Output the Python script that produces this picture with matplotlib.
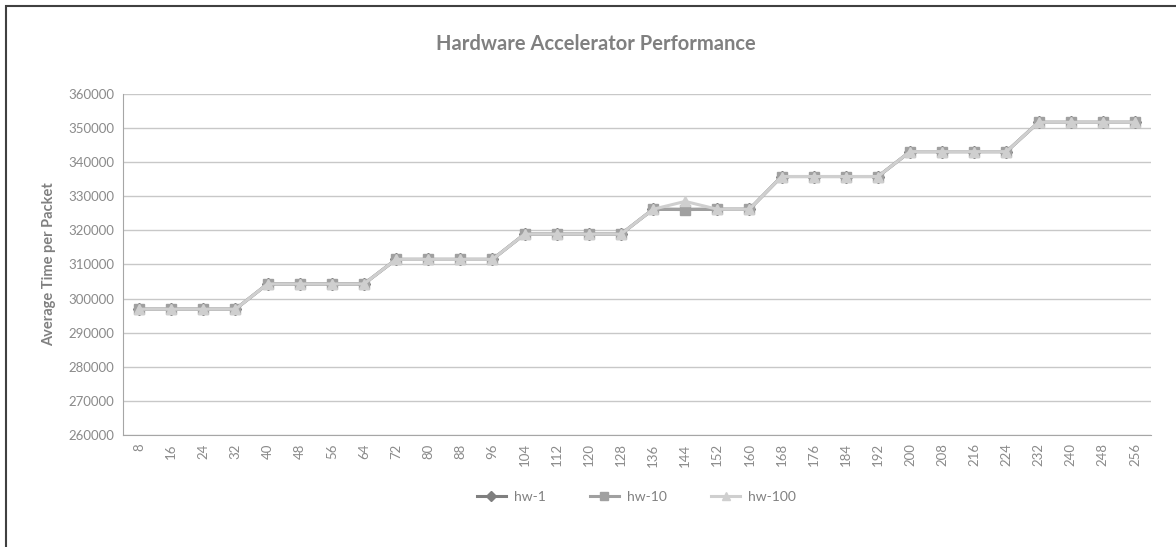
import matplotlib
matplotlib.use('Agg')
import matplotlib.pyplot as plt
from matplotlib.patches import Rectangle

plt.rcParams['font.family'] = ['Lato', 'DejaVu Sans']

# packet sizes on the x axis
sizes = [8, 16, 24, 32, 40, 48, 56, 64, 72, 80, 88, 96, 104, 112, 120, 128,
         136, 144, 152, 160, 168, 176, 184, 192, 200, 208, 216, 224, 232, 240, 248, 256]

# average time per packet
hw1 = [296900, 296900, 296900, 296900, 304300, 304300, 304300, 304300,
       311500, 311500, 311500, 311500, 318900, 318900, 318900, 318900,
       326200, 326200, 326200, 326200, 335800, 335800, 335800, 335800,
       343100, 343100, 343100, 343100, 351700, 351700, 351700, 351700]
hw10 = [296900, 296900, 296900, 296900, 304300, 304300, 304300, 304300,
        311500, 311500, 311500, 311500, 318900, 318900, 318900, 318900,
        326200, 326100, 326200, 326200, 335800, 335800, 335800, 335800,
        343100, 343100, 343100, 343100, 351700, 351700, 351700, 351700]
hw100 = [296900, 296900, 296900, 296900, 304300, 304300, 304300, 304300,
         311500, 311500, 311500, 311500, 318900, 318900, 318900, 318900,
         326200, 328500, 326200, 326200, 335800, 335800, 335800, 335800,
         343100, 343100, 343100, 343100, 351700, 351700, 351700, 351700]

text_col = '#808080'
pos = range(len(sizes))

fig = plt.figure(figsize=(11.76, 5.47), dpi=100)
ax = fig.add_axes([123 / 1176, 1 - 435 / 547, (1151 - 123) / 1176, (435 - 94) / 547])

ax.plot(pos, hw1, color='#7f7f7f', lw=2.2, marker='D', ms=6, label='hw-1')
ax.plot(pos, hw10, color='#a0a0a0', lw=2.2, marker='s', ms=7, label='hw-10')
ax.plot(pos, hw100, color='#cfcfcf', lw=2.2, marker='^', ms=7, label='hw-100')

ax.set_xlim(-0.5, len(sizes) - 0.5)
ax.set_ylim(260000, 360000)
ax.set_yticks(range(260000, 360001, 10000))
ax.set_xticks(list(pos))
ax.set_xticklabels([str(s) for s in sizes], rotation=90)
ax.tick_params(length=0, labelsize=9.5, colors='#8a8a8a', pad=6)
ax.yaxis.grid(True, color='#c8c8c8', lw=1)
ax.set_axisbelow(True)
for s in ['top', 'right']:
    ax.spines[s].set_visible(False)
for s in ['left', 'bottom']:
    ax.spines[s].set_color('#a6a6a6')

ax.set_ylabel('Average Time per Packet', color=text_col, fontsize=10.5,
              fontweight='bold', labelpad=9)
fig.text(0.507, 1 - 44 / 547, 'Hardware Accelerator Performance', ha='center',
         va='center', fontsize=14.5, fontweight='bold', color=text_col)

leg = fig.legend(loc='center', bbox_to_anchor=(0.541, 1 - 497 / 547), ncol=3,
                 frameon=False, fontsize=10, handlelength=2.1, handletextpad=0.55,
                 columnspacing=3.2, markerscale=0.8)
for t in leg.get_texts():
    t.set_color(text_col)

# chart border
fig.patches.append(Rectangle((5.5 / 1176, -0.1), 1.2, 1 - 5.5 / 547 + 0.1,
                             transform=fig.transFigure, fill=False,
                             edgecolor='#404040', lw=1.5))

plt.savefig('out.png', dpi=100)
